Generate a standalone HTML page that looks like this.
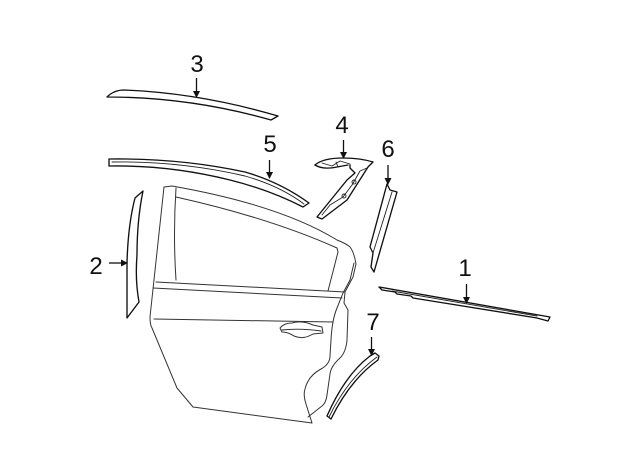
<!DOCTYPE html>
<html><head><meta charset="utf-8"><style>
html,body{margin:0;padding:0;background:#fff}
svg{display:block}
text{font-family:"Liberation Sans",sans-serif;font-size:24px;fill:#111;text-anchor:middle}
.t{fill:none;stroke:#333;stroke-width:1;stroke-linejoin:round;stroke-linecap:round}
.m{fill:none;stroke:#222;stroke-width:.9;stroke-linejoin:round;stroke-linecap:round}
.h{fill:none;stroke:#111;stroke-width:1.35;stroke-linejoin:round;stroke-linecap:round}
.l{stroke:#111;stroke-width:1.3}
.p{fill:#111;stroke:none}
</style></head><body>
<svg width="640" height="471" viewBox="0 0 640 471" xmlns="http://www.w3.org/2000/svg">
<rect width="640" height="471" fill="#fff"/>
<!-- 3 -->
<path class="h" d="M107 97Q114 90 124 90Q200 93 278 116L271 120Q190 97 107 97Z"/>
<!-- 5 -->
<path class="h" d="M109 159V166Q170 165 230 180Q270 190 303 207L309 203Q280 182 245 172Q180 158 109 159Z"/>
<path class="m" d="M112 162Q180 161 245 176Q280 186 304 204"/>
<!-- 2 -->
<path class="h" d="M143 191L135 198Q128 225 127 263V318L139 302Q135 280 137 255Q137 220 143 191Z"/>
<!-- door -->
<path class="t" d="M164 187L150 317Q150 325 152 328L177 388L193 407L312 423L306 404Q303 395 305 389Q308 376 321 369Q330 364 330 356L331 340Q332 320 337 308L343 293L350 280L354 263"/>
<path class="t" d="M164 187L172 186Q280 205 337 240Q347 244 350 247Q354 252 356 264L353 277L345 292L344 303L348 310L347 340Q346 352 340 358Q331 366 330 374L327 395Q326 403 322 406L308 417"/>
<path class="t" d="M176 197Q270 218 337 248L338 252L328 291"/>
<path class="t" d="M176 188Q173 235 176 280"/>
<path class="t" d="M156 282L345 292M153 288L342 298M154 319L333 322"/>
<path class="t" d="M280 328Q284 323 292 323Q302 320 313 325L322 327L323 333L313 334Q303 340 294 336Q288 332 282 332Z"/>
<path class="m" d="M282 330Q300 328 321 331"/>
<!-- 4 -->
<path class="h" d="M315 165Q323 158 343 158Q360 158 373 162L368 167L347 200L322 219L317 217L347 180L355 173L350 168L350 165"/>
<path class="h" d="M315 165Q323 170 337 167L348 165"/>
<path class="m" d="M322 163L332 166L340 161L350 164M367 168L360 171L352 185L343 197L330 205L322 215M336 162L338 167"/>
<circle class="m" cx="354" cy="182" r="2"/><circle class="m" cx="344" cy="196" r="2"/>
<!-- 6 -->
<path class="h" d="M387 184L390 190L397 192L374 272L371 267L373 253L370 247Z"/>
<path class="m" d="M392 192L373 253"/>
<!-- 1 -->
<path class="h" d="M379 287L550 317L548 321L537 318L413 298L411 296L397 294L395 292L382 290Z"/>
<path class="m" d="M392 291L537 316"/>
<!-- 7 -->
<path class="h" d="M375 353L379 356L378 360Q350 380 331 419L327 416Q345 375 370 356Z"/>
<path class="m" d="M377 357Q348 378 329 417"/>
<!-- arrows -->
<line class="l" x1="196.500" y1="78" x2="196.500" y2="92"/><path class="p" d="M193 91H200L196.500 98Z"/>
<line class="l" x1="269.500" y1="160" x2="269.500" y2="173"/><path class="p" d="M266 172H273L269.500 179Z"/>
<line class="l" x1="343.500" y1="140" x2="343.500" y2="153"/><path class="p" d="M340 152H347L343.500 159Z"/>
<line class="l" x1="388" y1="165" x2="388" y2="179"/><path class="p" d="M384.500 178H391.500L388 185Z"/>
<line class="l" x1="466.500" y1="284" x2="466.500" y2="298"/><path class="p" d="M463 297H470L466.500 304Z"/>
<line class="l" x1="109" y1="263" x2="122" y2="263"/><path class="p" d="M121 259.500V266.500L128 263Z"/>
<line class="l" x1="371.500" y1="337" x2="371.500" y2="350"/><path class="p" d="M368 349H375L371.500 356Z"/>
<!-- labels -->
<text x="197" y="72">3</text>
<text x="270" y="152">5</text>
<text x="342" y="133">4</text>
<text x="388" y="157">6</text>
<text x="465" y="276">1</text>
<text x="96" y="274">2</text>
<text x="373" y="330">7</text>
</svg>
</body></html>
